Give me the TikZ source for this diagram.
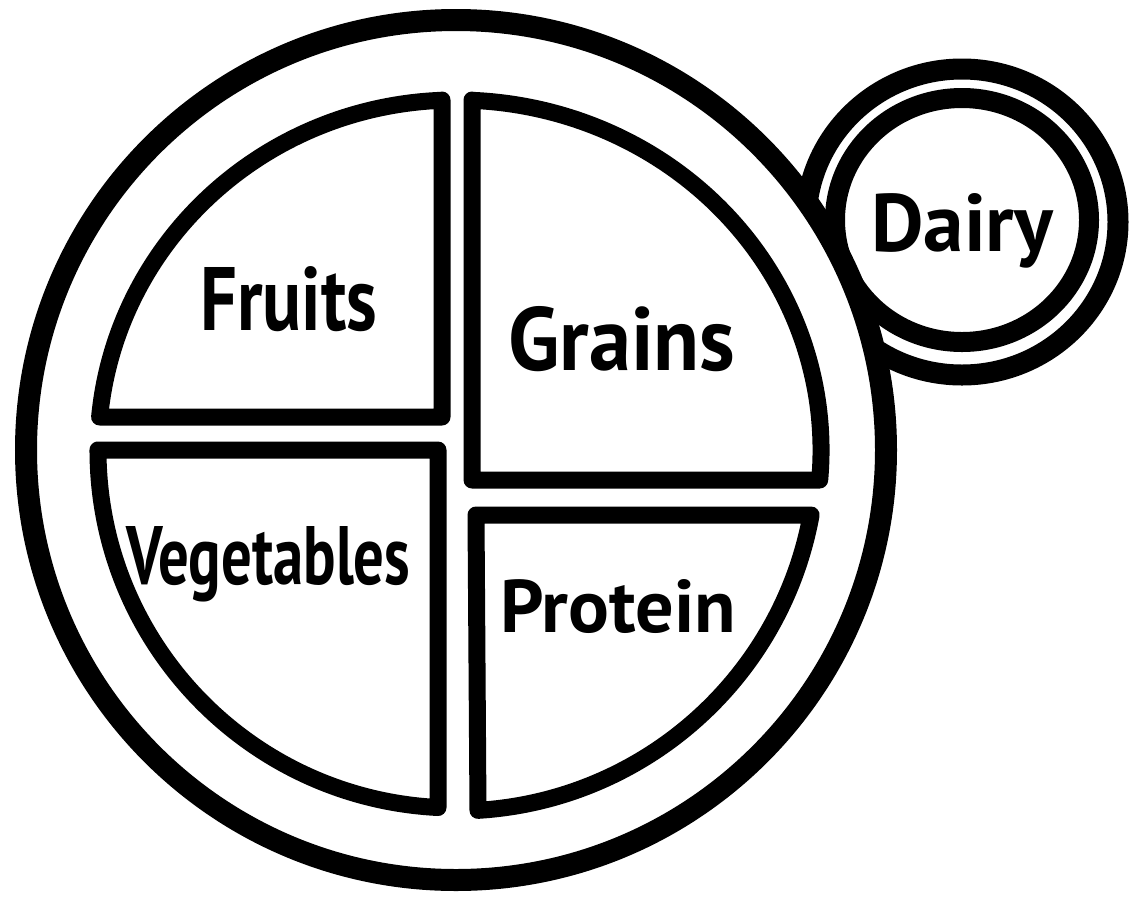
\documentclass[tikz,border=0pt]{standalone}
\usepackage{fontspec}
\setmainfont{PT Sans}
\usepackage{graphicx}
\begin{document}
\begin{tikzpicture}[x=1pt,y=1pt,
  platering/.style={line width=22pt, draw=black, fill=white},
  dairyring/.style={line width=21pt, draw=black},
  section/.style={line width=17pt, draw=black, line join=round, line cap=round},
  foodtext/.style={inner sep=0pt, anchor=base west, font=\bfseries}]
\fill[white] (0,0) rectangle (1130,-898);
\useasboundingbox (0,0) rectangle (1130,-898);
% dairy cup
\draw[dairyring] (962,-222) ellipse[x radius=156, y radius=153];
\draw[dairyring, line width=20pt] (962,-220) ellipse[x radius=127, y radius=122];
% plate
\draw[platering] (456,-450) circle[radius=430];
% fruits
\draw[section] (442,-100) -- (442,-417) -- (99.6,-417)
  arc[start angle=174.59, end angle=92.24, x radius=358, y radius=350] -- cycle;
% grains
\draw[section] (472,-100) -- (472,-480) -- (819.7,-480)
  arc[start angle=-4.92, end angle=87.49, x radius=365, y radius=350] -- cycle;
% vegetables
\draw[section] (98,-450) -- (438,-450) -- (438,-807.5)
  arc[start angle=267.12, end angle=180, radius=358] -- cycle;
% protein
\draw[section] (476,-515) -- (811.1,-515)
  arc[start angle=-10.37, end angle=-86.51, radius=361] -- cycle;
% labels
\node[foodtext] (fruits) at (200,-330) {\resizebox{177pt}{64pt}{Fruits}};
\node[foodtext] (grains) at (508,-370) {\resizebox{227pt}{64pt}{Grains}};
\node[foodtext] (dairy) at (871,-251) {\resizebox{182pt}{58pt}{Dairy}};
\node[foodtext] (vegetables) at (126,-584) {\resizebox{284pt}{58pt}{Vegetables}};
\node[foodtext] (protein) at (500,-632) {\resizebox{236pt}{53pt}{Protein}};
\end{tikzpicture}
\end{document}
